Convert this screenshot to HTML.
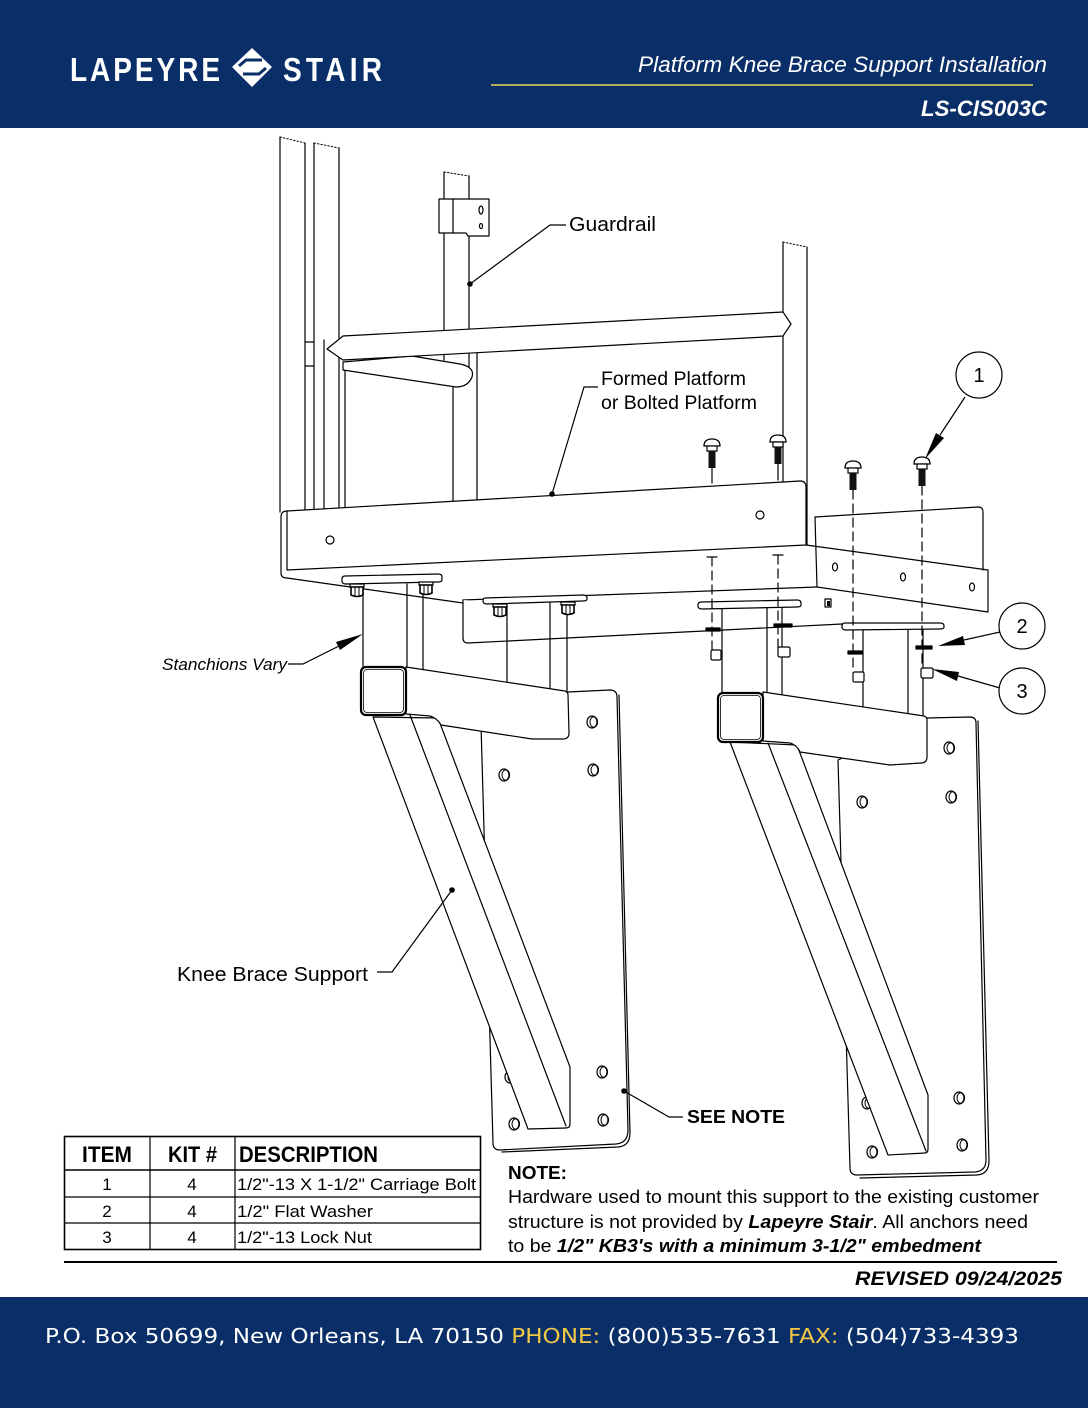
<!DOCTYPE html>
<html><head><meta charset="utf-8">
<style>
html,body{margin:0;padding:0;background:#fff;}
svg{display:block;}
</style></head><body>
<svg width="1088" height="1408" viewBox="0 0 1088 1408" xmlns="http://www.w3.org/2000/svg">
<rect width="1088" height="1408" fill="#fff"/>
<defs>
<g id="nut">
<path d="M-7,0 L7,0 L7,3 L-7,3 Z" fill="#fff" stroke="#000" stroke-width="1.2"/>
<path d="M-6,3 L6,3 L6,11 Q0,14 -6,11 Z" fill="#fff" stroke="#000" stroke-width="1.6"/>
<path d="M-2,3 L-2,12 M2,3 L2,12" stroke="#000" stroke-width="1"/>
</g>
<g id="bolt">
<path d="M-8,7 Q-8,0 0,0 Q8,0 8,7 Z" fill="#fff" stroke="#000" stroke-width="1.3"/>
<rect x="-5" y="7" width="10" height="5" fill="#fff" stroke="#000" stroke-width="1.2"/>
<rect x="-3.5" y="12" width="7" height="17" fill="#111"/>
</g>
<g id="hole">
<ellipse cx="0" cy="0" rx="5" ry="6" fill="#fff" stroke="#000" stroke-width="1.2"/>
<ellipse cx="1.8" cy="0" rx="3.8" ry="5.2" fill="none" stroke="#000" stroke-width="1"/>
</g>
</defs>

<!-- HEADER -->
<rect x="0" y="0" width="1088" height="128" fill="#0a2f68"/>
<g transform="scale(0.85,1)">
<text x="82.35" y="81" font-family="Liberation Sans, sans-serif" font-weight="bold" font-size="33" fill="#fff" textLength="176.5" lengthAdjust="spacing">LAPEYRE</text>
<text x="332.9" y="81" font-family="Liberation Sans, sans-serif" font-weight="bold" font-size="33" fill="#fff" textLength="116.5" lengthAdjust="spacing">STAIR</text>
</g>
<polygon points="252,48 272,67 252,87 232,67" fill="#fff"/>
<path d="M239,66 L246,60 L262,60 M243,74 L259,74 L266,68" stroke="#0a2f68" stroke-width="3" fill="none"/>
<text x="638" y="72" font-family="Liberation Sans, sans-serif" font-style="italic" font-size="22" fill="#fff" textLength="409" lengthAdjust="spacingAndGlyphs">Platform Knee Brace Support Installation</text>
<rect x="491" y="84" width="542" height="2" fill="#b9aa57"/>
<text x="921" y="116" font-family="Liberation Sans, sans-serif" font-style="italic" font-weight="bold" font-size="22" fill="#fff" textLength="126" lengthAdjust="spacingAndGlyphs">LS-CIS003C</text>

<!-- DRAWING -->
<g fill="none" stroke="#000" stroke-width="1.2" stroke-linejoin="round" stroke-linecap="round">
<line x1="280" y1="137" x2="280" y2="512"/>
<line x1="305" y1="143" x2="305" y2="510"/>
<line x1="314" y1="143" x2="314" y2="510"/>
<line x1="339" y1="148" x2="339" y2="508"/>
<line x1="324" y1="340" x2="324" y2="509"/>
<line x1="345" y1="362" x2="345" y2="508"/>
<path d="M305,342 L314,342 M305,366 L314,366"/>
<path d="M280,137 L305,143 M314,143 L339,148 M444,172 L469,176 M783,242 L807,247" stroke-dasharray="1.5 2" stroke-width="1"/>
<line x1="444" y1="172" x2="444" y2="360"/>
<line x1="469" y1="176" x2="469" y2="372"/>
<line x1="453" y1="375" x2="453" y2="501"/>
<line x1="477" y1="353" x2="477" y2="500"/>
<path d="M439,199 L489,199 L489,236 L468,236 L466,233 L439,233 Z" fill="#fff"/>
<line x1="453" y1="199" x2="453" y2="233"/>
<ellipse cx="481" cy="210" rx="2" ry="4"/>
<ellipse cx="481" cy="226" rx="1.5" ry="2.5"/>
<line x1="783" y1="242" x2="783" y2="482"/>
<line x1="807" y1="247" x2="807" y2="545"/>
<path d="M343,362 L412,356 L460,364 Q475,367 472,377 Q468,387 456,387 L343,370 Z" fill="#fff"/>
<path d="M343,336 L783,312 L791,324 L783,336 L343,360 L327,349 Z" fill="#fff"/>

<path d="M287,511 L800,481 Q806,481 806,487 L806,545 L287,570 Z" fill="#fff"/>
<path d="M287,511 Q281,511 281,517 L281,573 Q281,578 287,578"/>
<circle cx="330" cy="540" r="4"/>
<circle cx="760" cy="515" r="4"/>
<path d="M287,578 L463,603"/>
<path d="M463,600 L817,587"/>
<path d="M463,600 L463,638 Q463,643 468,643 L842,624" fill="#fff"/>
<path d="M815,517 L978,507 Q983,507 983,512 L983,570"/>
<path d="M815,517 L817,587"/>
<path d="M806,545 L988,570 L988,612 L817,587"/>
<ellipse cx="835" cy="567" rx="2.5" ry="4"/>
<ellipse cx="903" cy="577" rx="2.5" ry="4"/>
<ellipse cx="972" cy="587" rx="2.5" ry="4"/>
<rect x="825" y="599" width="6" height="8" fill="#fff"/>
<rect x="827" y="601" width="3" height="5" fill="#000" stroke="none"/>

<line x1="507" y1="603" x2="507" y2="683"/>
<line x1="550" y1="603" x2="550" y2="689"/>
<line x1="567" y1="603" x2="567" y2="692"/>
<path d="M485,598 L583,595 Q587,595 587,598 L587,599 Q587,601 583,601 L487,604 Q483,604 483,601 Q483,598 485,598 Z" fill="#fff"/>
<line x1="363" y1="584" x2="363" y2="667"/>
<line x1="407" y1="584" x2="407" y2="667"/>
<line x1="423" y1="584" x2="423" y2="670"/>
<path d="M345,576 L438,574 Q442,574 442,577 L442,580 Q442,582 438,582 L346,584 Q342,584 342,581 L342,579 Q342,576 345,576 Z" fill="#fff"/>
<line x1="722" y1="608" x2="722" y2="693"/>
<line x1="767" y1="608" x2="767" y2="693"/>
<line x1="782" y1="608" x2="782" y2="695"/>
<path d="M701,602 L797,600 Q801,600 801,603 L801,605 Q801,607 797,607 L702,609 Q698,609 698,606 L698,605 Q698,602 701,602 Z" fill="#fff"/>
<line x1="863" y1="629" x2="863" y2="707"/>
<line x1="908" y1="629" x2="908" y2="714"/>
<line x1="923" y1="629" x2="923" y2="716"/>
<path d="M845,623 L940,623 Q944,623 944,626 L944,627 Q944,629 940,629 L846,630 Q842,630 842,627 L842,626 Q842,623 845,623 Z" fill="#fff"/>
</g>

<use href="#nut" x="357" y="584"/>
<use href="#nut" x="426" y="582"/>
<use href="#nut" x="500" y="604"/>
<use href="#nut" x="568" y="602"/>

<g fill="none" stroke="#000" stroke-width="1.2" stroke-linejoin="round" stroke-linecap="round">
<path d="M481,725 L568,692 L610,690 Q617,690 617,697 L628,1130 Q628,1143 616,1144 L500,1150 Q493,1150 493,1143 Z" fill="#fff"/>
<path d="M619,695 L630,1133 Q630,1146 618,1147 L502,1152"/>
<path d="M838,760 L927,718 L970,717 Q976,717 976,723 L986,1160 Q986,1171 975,1172 L857,1175 Q850,1175 850,1168 Z" fill="#fff"/>
<path d="M978,721 L989,1161 Q989,1174 977,1175 L860,1178"/>
</g>
<use href="#hole" x="592" y="722"/>
<use href="#hole" x="593" y="770"/>
<use href="#hole" x="504" y="775"/>
<use href="#hole" x="602" y="1072"/>
<use href="#hole" x="603" y="1120"/>
<use href="#hole" x="514" y="1124"/>
<use href="#hole" x="510" y="1077"/>
<use href="#hole" x="949" y="748"/>
<use href="#hole" x="951" y="797"/>
<use href="#hole" x="862" y="802"/>
<use href="#hole" x="959" y="1098"/>
<use href="#hole" x="962" y="1145"/>
<use href="#hole" x="872" y="1152"/>
<use href="#hole" x="867" y="1103"/>

<g fill="none" stroke="#000" stroke-width="1.2" stroke-linejoin="round" stroke-linecap="round">
<path d="M373,717 L528,1129 L566,1128 Q570,1128 570,1124 L570,1067 L438,718 Z" fill="#fff"/>
<line x1="410" y1="715" x2="566" y2="1126"/>
<path d="M406,667 L565,691 Q568,692 568,695 L569,733 Q569,739 563,739 L532,739 L441,725 Q437,718 430,716 L406,714 Z" fill="#fff"/>
<rect x="361" y="667" width="45" height="48" rx="5" fill="#fff" stroke-width="2.2"/>
<rect x="363.5" y="669.5" width="40" height="43" rx="3.5" stroke-width="0.8"/>
<path d="M730,742 L888,1155 L925,1153 Q928,1153 928,1149 L928,1095 L797,745 Z" fill="#fff"/>
<line x1="768" y1="743" x2="926" y2="1151"/>
<path d="M763,692 L924,716 Q927,717 927,720 L927,757 Q927,763 921,763 L890,765 L800,752 Q797,745 790,743 L763,741 Z" fill="#fff"/>
<rect x="718" y="693" width="45" height="49" rx="5" fill="#fff" stroke-width="2.2"/>
<rect x="720.5" y="695.5" width="40" height="44" rx="3.5" stroke-width="0.8"/>

<path d="M707,557 L717,557 M773,555 L783,555"/>
<path d="M712,557 L712,652 M778,555 L778,649" stroke-dasharray="9 5"/>
<path d="M712,468 L712,483 M778,464 L778,480"/>
<path d="M853,490 L853,672 M922,486 L922,668" stroke-dasharray="9 5"/>
<rect x="706" y="628" width="14" height="3" fill="#000"/>
<rect x="774" y="624" width="18" height="3" fill="#000"/>
<rect x="848" y="651" width="14" height="3" fill="#000"/>
<rect x="916" y="646" width="16" height="3" fill="#000"/>
<rect x="711" y="650" width="10" height="10" rx="1.5" fill="#fff"/>
<rect x="778" y="647" width="12" height="10" rx="1.5" fill="#fff"/>
<rect x="853" y="672" width="11" height="10" rx="1.5" fill="#fff"/>
<rect x="921" y="668" width="12" height="10" rx="1.5" fill="#fff"/>
</g>
<use href="#bolt" x="712" y="439"/>
<use href="#bolt" x="778" y="435"/>
<use href="#bolt" x="853" y="461"/>
<use href="#bolt" x="922" y="457"/>

<g fill="none" stroke="#000" stroke-width="1.2">
<path d="M470,284 L550,225 L566,225"/>
<path d="M552,494 L584,387 L598,387"/>
<path d="M288,664 L303,664 L339,646"/>
<path d="M377,972 L392,972 L452,890"/>
<path d="M624,1091 L669,1117 L683,1117"/>
<path d="M965,397 L940,435"/>
<path d="M1000,632 L964,640"/>
<path d="M1000,688 L958,676"/>
<circle cx="979" cy="375" r="23" fill="#fff"/>
<circle cx="1022" cy="626" r="23" fill="#fff"/>
<circle cx="1022" cy="691" r="23" fill="#fff"/>
</g>
<g fill="#000">
<circle cx="470" cy="284" r="2.8"/>
<circle cx="552" cy="494" r="2.8"/>
<circle cx="452" cy="890" r="2.8"/>
<circle cx="624" cy="1091" r="2.8"/>
<polygon points="363,634 340,650 336,642"/>
<polygon points="925,459 944,438 936,433"/>
<polygon points="938,646 965,645 963,636"/>
<polygon points="932,669 957,681 959,672"/>
</g>
<g font-family="Liberation Sans, sans-serif" fill="#000">
<text x="569" y="231" font-size="20" textLength="87" lengthAdjust="spacingAndGlyphs">Guardrail</text>
<text x="601" y="385" font-size="19" textLength="145" lengthAdjust="spacingAndGlyphs">Formed Platform</text>
<text x="601" y="409" font-size="19" textLength="156" lengthAdjust="spacingAndGlyphs">or Bolted Platform</text>
<text x="162" y="670" font-size="17" font-style="italic" textLength="125" lengthAdjust="spacingAndGlyphs">Stanchions Vary</text>
<text x="177" y="981" font-size="20" textLength="191" lengthAdjust="spacingAndGlyphs">Knee Brace Support</text>
<text x="687" y="1123" font-size="18" font-weight="bold" textLength="98" lengthAdjust="spacingAndGlyphs">SEE NOTE</text>
<text x="979" y="382" font-size="20" text-anchor="middle">1</text>
<text x="1022" y="633" font-size="20" text-anchor="middle">2</text>
<text x="1022" y="698" font-size="20" text-anchor="middle">3</text>
</g>

<g fill="none" stroke="#000">
<rect x="64.5" y="1136.5" width="416" height="113" stroke-width="1.6"/>
<line x1="64" y1="1170" x2="481" y2="1170" stroke-width="1.6"/>
<line x1="64" y1="1197" x2="481" y2="1197" stroke-width="1.2"/>
<line x1="64" y1="1223" x2="481" y2="1223" stroke-width="1.2"/>
<line x1="150" y1="1136" x2="150" y2="1250" stroke-width="1.2"/>
<line x1="235" y1="1136" x2="235" y2="1250" stroke-width="1.2"/>
</g>
<g font-family="Liberation Sans, sans-serif" fill="#000">
<text x="82" y="1162" font-size="22" font-weight="bold" textLength="50" lengthAdjust="spacingAndGlyphs">ITEM</text>
<text x="168" y="1162" font-size="22" font-weight="bold" textLength="49" lengthAdjust="spacingAndGlyphs">KIT #</text>
<text x="239" y="1162" font-size="22" font-weight="bold" textLength="139" lengthAdjust="spacingAndGlyphs">DESCRIPTION</text>
<text x="107" y="1190" font-size="17" text-anchor="middle">1</text>
<text x="192" y="1190" font-size="17" text-anchor="middle">4</text>
<text x="237" y="1190" font-size="17" textLength="239" lengthAdjust="spacingAndGlyphs">1/2"-13 X 1-1/2" Carriage Bolt</text>
<text x="107" y="1217" font-size="17" text-anchor="middle">2</text>
<text x="192" y="1217" font-size="17" text-anchor="middle">4</text>
<text x="237" y="1217" font-size="17" textLength="136" lengthAdjust="spacingAndGlyphs">1/2" Flat Washer</text>
<text x="107" y="1243" font-size="17" text-anchor="middle">3</text>
<text x="192" y="1243" font-size="17" text-anchor="middle">4</text>
<text x="237" y="1243" font-size="17" textLength="135" lengthAdjust="spacingAndGlyphs">1/2"-13 Lock Nut</text>

<text x="508" y="1179" font-size="18" font-weight="bold" textLength="59" lengthAdjust="spacingAndGlyphs">NOTE:</text>
<text x="508" y="1203" font-size="18" textLength="531" lengthAdjust="spacingAndGlyphs">Hardware used to mount this support to the existing customer</text>
<text x="508" y="1228" font-size="18" textLength="520" lengthAdjust="spacingAndGlyphs">structure is not provided by <tspan font-weight="bold" font-style="italic">Lapeyre Stair</tspan>. All anchors need</text>
<text x="508" y="1252" font-size="18" textLength="473" lengthAdjust="spacingAndGlyphs">to be <tspan font-weight="bold" font-style="italic">1/2" KB3's with a minimum 3-1/2" embedment</tspan></text>
<text x="855" y="1285" font-size="19" font-weight="bold" font-style="italic" textLength="207" lengthAdjust="spacingAndGlyphs">REVISED 09/24/2025</text>
</g>
<rect x="64" y="1261" width="993" height="2" fill="#000"/>

<rect x="0" y="1297" width="1088" height="111" fill="#0a2f68"/>
<text x="45" y="1343" font-family="DejaVu Sans, Liberation Sans, sans-serif" font-size="20" fill="#fff" textLength="974" lengthAdjust="spacingAndGlyphs">P.O. Box 50699, New Orleans, LA 70150  <tspan fill="#f0c846">PHONE:</tspan> (800)535-7631 <tspan fill="#f0c846">FAX:</tspan> (504)733-4393</text>
</svg>
</body></html>
